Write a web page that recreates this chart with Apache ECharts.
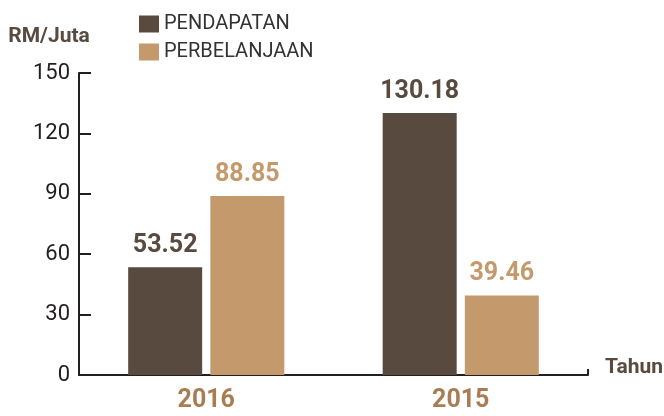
<!DOCTYPE html>
<html>
<head>
<meta charset="utf-8">
<script src="https://cdn.jsdelivr.net/npm/echarts@6/dist/echarts.min.js"></script>
<style>
  html, body { margin: 0; padding: 0; background: #fff; }
  #chart { width: 664px; height: 416px; }
</style>
</head>
<body>
<div id="chart"></div>
<script>
var years = ['2016', '2015'];
var pendapatan = [53.52, 130.18];
var perbelanjaan = [88.85, 39.46];
var yMin = 0, yMax = 150, yStep = 30;

var font = "Roboto, 'DejaVu Sans Condensed', sans-serif";
var dark = '#594a40';
var light = '#c49a6c';
var ink = '#231f20';

var chart = echarts.init(document.getElementById('chart'));
chart.setOption({
  animation: false,
  textStyle: { fontFamily: font },
  legend: {
    orient: 'vertical',
    left: 139,
    top: 14,
    padding: 0,
    itemWidth: 20,
    itemHeight: 17,
    itemGap: 8,
    itemTextGap: 7,
    icon: 'rect',
    textStyle: { fontFamily: font, fontSize: 20, color: '#333' },
    data: ['PENDAPATAN', 'PERBELANJAAN']
  },
  grid: { left: 79, right: 76, top: 73, bottom: 41, outerBoundsMode: 'none', containLabel: false },
  xAxis: {
    type: 'category',
    data: years,
    name: 'Tahun',
    nameLocation: 'end',
    nameGap: 17,
    nameTextStyle: {
      fontFamily: font, fontSize: 21, fontWeight: 'bold', color: dark,
      verticalAlign: 'bottom', lineHeight: 14
    },
    axisLine: { lineStyle: { color: ink, width: 2 } },
    axisTick: {
      show: true, inside: true, length: 6,
      interval: function (i) { return i === 0; },
      lineStyle: { color: ink, width: 2 }
    },
    axisLabel: {
      margin: 13,
      fontFamily: font, fontSize: 25, fontWeight: 'bold', color: '#a97d54'
    }
  },
  yAxis: {
    type: 'value',
    min: yMin,
    max: yMax,
    interval: yStep,
    name: 'RM/Juta',
    nameLocation: 'end',
    nameGap: 26,
    nameTextStyle: {
      fontFamily: font, fontSize: 21, fontWeight: 'bold', color: dark,
      align: 'center', padding: [0, 60, 0, 0]
    },
    splitLine: { show: false },
    axisLine: { show: true, lineStyle: { color: ink, width: 2 } },
    axisTick: { show: true, inside: true, length: 12, lineStyle: { color: ink, width: 2 } },
    axisLabel: { margin: 9, fontFamily: font, fontSize: 22, color: ink }
  },
  series: [
    {
      name: 'PENDAPATAN',
      type: 'bar',
      data: pendapatan,
      barWidth: 74,
      barGap: '11%',
      itemStyle: { color: dark },
      label: {
        show: true, position: 'top', distance: 9,
        fontFamily: font, fontSize: 25, fontWeight: 'bold', color: dark,
        formatter: function (p) { return p.value.toFixed(2); }
      }
    },
    {
      name: 'PERBELANJAAN',
      type: 'bar',
      data: perbelanjaan,
      barWidth: 74,
      itemStyle: { color: light },
      label: {
        show: true, position: 'top', distance: 9,
        fontFamily: font, fontSize: 25, fontWeight: 'bold', color: light,
        formatter: function (p) { return p.value.toFixed(2); }
      }
    }
  ]
});
</script>
</body>
</html>
